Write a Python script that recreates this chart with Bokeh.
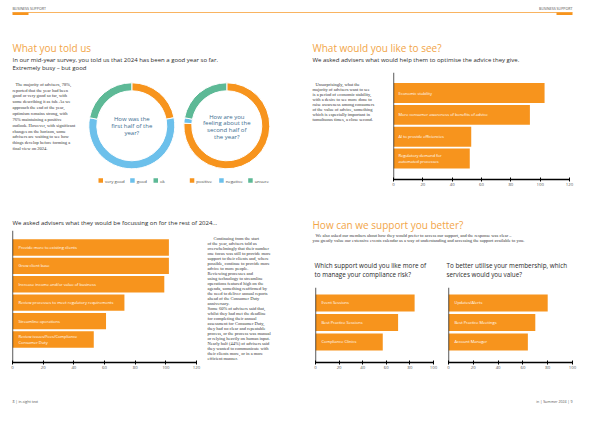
import numpy as np
from bokeh.plotting import figure
from bokeh.layouts import row, column
from bokeh.models import Range1d, FixedTicker, Span, ColumnDataSource
from bokeh.core.properties import value
from bokeh.embed import file_html
from bokeh.resources import INLINE

# ---------------- data ----------------
q1_labels = ["very good", "good", "ok"]
q1_values = [22, 56, 22]
q2_labels = ["positive", "negative", "unsure"]
q2_values = [76, 2, 22]
seg_colors = ["#F7941D", "#6CC0EB", "#5DB996"]

see_labels = ["Economic stability",
              "More consumer awareness of benefits of advice",
              "AI to provide efficiencies",
              "Regulatory demand for\nautomated processes"]
see_values = [103, 93, 53, 52]

focus_labels = ["Provide more to existing clients",
                "Grow client base",
                "Increase income and/or value of business",
                "Review processes to meet regulatory requirements",
                "Streamline operations",
                "Review issues/Fees/Compliance\nConsumer Duty"]
focus_values = [102, 102, 99, 73, 61, 53]

compl_labels = ["Event Sessions", "Best Practice Sessions", "Compliance Clinics"]
compl_values = [84, 70, 57]

member_labels = ["Updates/Alerts", "Best Practice Meetings", "Account Manager"]
member_values = [80, 70, 64]

ticks_120 = [0, 20, 40, 60, 80, 100, 120]
ticks_100 = [0, 20, 40, 60, 80, 100]

para1 = ["The majority of advisers, 78%,",
         "reported that the year had been",
         "good or very good so far, with",
         "some describing it as fab. As we",
         "approach the end of the year,",
         "optimism remains strong, with",
         "76% maintaining a positive",
         "outlook. However, with significant",
         "changes on the horizon, some",
         "advisers are waiting to see how",
         "things develop before forming a",
         "final view on 2024."]
para2 = ["Unsurprisingly, what the",
         "majority of advisers want to see",
         "is a period of economic stability,",
         "with a desire to see more done to",
         "raise awareness among consumers",
         "of the value of advice, something",
         "which is especially important in",
         "tumultuous times, a close second."]
para3 = ["Continuing from the start",
         "of the year, advisers told us",
         "overwhelmingly that their number",
         "one focus was still to provide more",
         "support to their clients and, where",
         "possible, continue to provide more",
         "advice to more people.",
         "Reviewing processes and",
         "using technology to streamline",
         "operations featured high on the",
         "agenda, something reaffirmed by",
         "the need to deliver annual reports",
         "ahead of the Consumer Duty",
         "anniversary.",
         "Some 60% of advisers said that,",
         "whilst they had met the deadline",
         "for completing their annual",
         "assessment for Consumer Duty,",
         "they had no clear and repeatable",
         "process, or the process was manual",
         "or relying heavily on human input.",
         "Nearly half (44%) of advisers said",
         "they wanted to communicate with",
         "their clients more, or in a more",
         "efficient manner."]
para4 = ["We also asked our members about how they would prefer to access our support, and the response was clear \u2013",
         "you greatly value our extensive events calendar as a way of understanding and accessing the support available to you."]

# ---------------- style ----------------
ORANGE = "#F7941D"
TITLE_C = "#F2A548"
DARK = "#2A2A2A"
SANS = "Open Sans"
SERIF = "Liberation Serif"


class Tile:
    def __init__(self, w, h):
        self.w, self.h = w, h
        p = figure(width=w, height=h, x_range=Range1d(0, w), y_range=Range1d(0, h),
                   x_axis_type=None, y_axis_type=None, toolbar_location=None,
                   output_backend="svg", min_border=0, outline_line_color=None,
                   background_fill_color="white", border_fill_color="white")
        self.p = p

    def txt(self, x, y, s, size, color=DARK, font=SANS, align="left", style="normal"):
        self.p.text(x=[x], y=[self.h - y], text=[s], text_font=value(font),
                    text_font_size=f"{size}px", text_color=color, text_align=align,
                    text_baseline="middle", text_font_style=style)

    def para(self, x, y0, lines, step, size=4.5, indent_first=3):
        for i, s in enumerate(lines):
            self.txt(x + (indent_first if i == 0 else 0), y0 + i * step, s, size,
                     color="#333333", font=SERIF)

    def hline(self, x0, x1, y, color, width):
        self.p.segment(x0=[x0], y0=[self.h - y], x1=[x1], y1=[self.h - y],
                       line_color=color, line_width=width)

    def box(self, l, r, t, b, color):
        self.p.quad(left=[l], right=[r], top=[self.h - t], bottom=[self.h - b],
                    fill_color=color, line_color=None)

    def donut(self, cx, cy, values, colors, r_in, r_out):
        fr = np.array(values, dtype=float) / np.sum(values)
        cum = np.concatenate([[0.0], np.cumsum(fr)])
        src = ColumnDataSource(dict(
            start=np.pi / 2 - 2 * np.pi * cum[:-1],
            end=np.pi / 2 - 2 * np.pi * cum[1:],
            color=colors))
        self.p.annular_wedge(x=cx, y=self.h - cy, inner_radius=r_in, outer_radius=r_out,
                             start_angle="start", end_angle="end", direction="clock",
                             fill_color="color", line_color="white", line_width=1,
                             source=src)

    def legend(self, xs, y, labels, colors):
        for x, lab, c in zip(xs, labels, colors):
            self.box(x, x + 4.5, y - 2.25, y + 2.25, c)
            self.txt(x + 6.5, y, lab, 4.3, color="#444444")


def bar_chart(w, h, labels, values, ticks, xmax, ml, mr, mb, pad_top, pad_bot, bar_h, lab_off):
    n = len(labels)
    p = figure(width=w, height=h, x_range=Range1d(0, xmax),
               y_range=Range1d(n - 1 + pad_bot, -pad_top),
               y_axis_location=None, toolbar_location=None, output_backend="svg",
               min_border_left=ml, min_border_right=mr, min_border_top=0,
               min_border_bottom=mb, outline_line_color=None,
               background_fill_color="white", border_fill_color="white")
    src = ColumnDataSource(dict(y=list(range(n)), v=values, lab=labels))
    p.hbar(y="y", left=0, right="v", height=bar_h, fill_color=ORANGE, line_color=None,
           source=src)
    p.text(x=0, y="y", text="lab", x_offset=lab_off, text_baseline="middle",
           text_font=value(SANS), text_font_size="4px", text_color="white",
           text_line_height=1.15, source=src)
    p.xgrid.visible = False
    p.ygrid.visible = False
    ax = p.xaxis[0]
    ax.ticker = FixedTicker(ticks=ticks)
    ax.axis_line_color = "black"
    ax.axis_line_width = 1.3
    ax.major_tick_line_color = "black"
    ax.major_tick_in = 2
    ax.major_tick_out = 2
    ax.minor_tick_line_color = None
    ax.major_label_text_font = SANS
    ax.major_label_text_font_size = "4.3px"
    ax.major_label_text_color = "#555555"
    ax.major_label_standoff = 1
    p.add_layout(Span(location=0, dimension="height", line_color="black", line_width=1.3))
    return p


# ---------------- top strip (x 8..592, y 8..80) ----------------
top = Tile(584, 72)
top.hline(12, 572, 12, ORANGE, 0.7)
top.box(12, 28, 12, 14.5, ORANGE)
top.box(556, 572, 12, 14.5, ORANGE)
top.txt(12, 8, "BUSINESS SUPPORT", 3.6, color="#555555")
top.txt(572, 8, "BUSINESS SUPPORT", 3.6, color="#555555", align="right")
top.txt(12, 47, "What you told us", 10, color=TITLE_C)
top.txt(12, 59, "In our mid-year survey, you told us that 2024 has been a good year so far.", 6)
top.txt(12, 67.5, "Extremely busy \u2013 but good", 6)
top.txt(312, 47, "What would you like to see?", 10, color=TITLE_C)
top.txt(312, 59, "We asked advisers what would help them to optimise the advice they give.", 6)

# ---------------- left page ----------------
l2 = Tile(292, 158)  # x 8..300, y 80..238
l2.para(12, 11.7, para1, 5.85)
l2.donut(131.3, 53.3, q1_values, seg_colors, 35, 43)
l2.donut(226.3, 53.3, q2_values, seg_colors, 35, 43)
for i, s in enumerate(["How was the", "first half of the", "year?"]):
    l2.txt(131.3, 46.7 + i * 6.7, s, 6, color="#3C6D90", align="center")
for i, s in enumerate(["How are you", "feeling about the", "second half of", "the year?"]):
    l2.txt(226.3, 44.3 + i * 6.6, s, 6, color="#3C6D90", align="center")
l2.legend([98, 129.7, 153], 108, q1_labels, seg_colors)
l2.legend([189.3, 218.7, 247.7], 108, q2_labels, seg_colors)
l2.txt(12, 150, "We asked advisers what they would be focussing on for the rest of 2024...", 6)

lb = bar_chart(202, 147, focus_labels, focus_values, ticks_120, 120,
               12, 6, 15, 0.92, 1.25, 0.89, 6)
lp = Tile(90, 147)  # x 210..300, y 238..385
lp.para(5, 8.7, para3, 5.6, indent_first=6)

left_col = column(l2.p, row(lb, lp.p))

# ---------------- right page ----------------
rp = Tile(95, 120)  # x 300..395, y 80..200
rp.para(20, 13.3, para2, 5.6, indent_first=3)
rt = bar_chart(197, 120, see_labels, see_values, ticks_120, 120,
               6, 15, 13, 0.94, 0.96, 0.91, 5)

r3 = Tile(292, 95)  # x 300..592, y 200..295
r3.txt(20, 32.7, "How can we support you better?", 10, color=TITLE_C)
r3.para(20, 42.7, para4, 5.3, indent_first=3)
r3.txt(22, 73.3, "Which support would you like more of", 6.3)
r3.txt(22, 81.7, "to manage your compliance risk?", 6.3)
r3.txt(154, 73.3, "To better utilise your membership, which", 6.3)
r3.txt(154, 81.7, "services would you value?", 6.3)

rb1 = bar_chart(150, 90, compl_labels, compl_values, ticks_100, 100,
                23, 9, 15, 0.79, 1.05, 0.87, 6)
rb2 = bar_chart(142, 90, member_labels, member_values, ticks_100, 100,
                6, 12, 15, 0.79, 1.05, 0.87, 6)

right_col = column(row(rp.p, rt), r3.p, row(rb1, rb2))

# ---------------- footer ----------------
foot = Tile(584, 31)  # y 385..416
foot.txt(12, 24, "8 | in-sight text", 3.6, color="#555555")
foot.txt(572, 24, "in | Summer 2024 | 9", 3.6, color="#555555", align="right")

page = column(top.p, row(left_col, right_col), foot.p)

open("out.html", "w").write(file_html(page, INLINE))
